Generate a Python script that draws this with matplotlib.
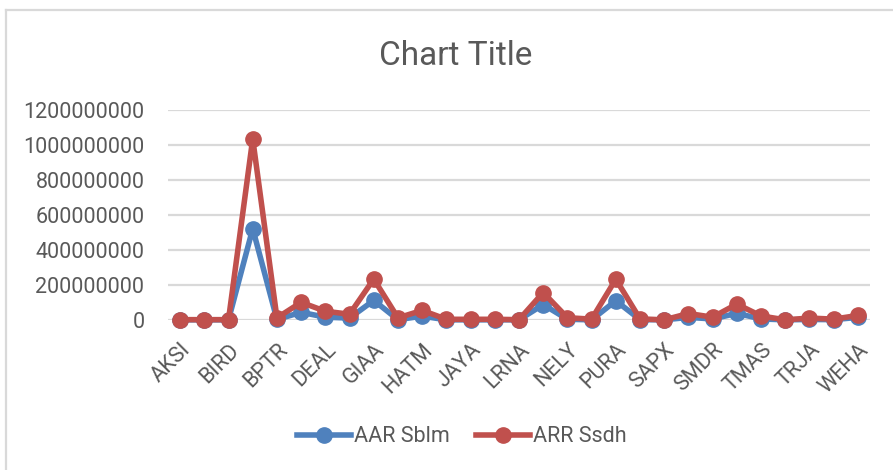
import matplotlib
matplotlib.use("Agg")
import matplotlib.pyplot as plt
from matplotlib.lines import Line2D
import numpy as np

# ---- data ----
tick_labels = ["AKSI", "BIRD", "BPTR", "DEAL", "GIAA", "HATM", "JAYA", "LRNA",
               "NELY", "PURA", "SAPX", "SMDR", "TMAS", "TRJA", "WEHA"]
n_points = 29
aar_sblm = [1e6, 1e6, 1e6, 522e6, 3e6, 44e6, 16e6, 11e6, 112e6, 2e6,
            22e6, 1e6, 1e6, 1e6, 1e6, 88e6, 4e6, 1e6, 110e6, 2e6,
            1e6, 15e6, 6e6, 38e6, 6e6, 1e6, 3e6, 2e6, 15e6]
arr_ssdh = [2e6, 2e6, 2e6, 1035e6, 12e6, 101e6, 50e6, 33e6, 234e6, 12e6,
            55e6, 4e6, 4e6, 4e6, 2e6, 157e6, 13e6, 5e6, 233e6, 6e6,
            1e6, 37e6, 16e6, 91e6, 23e6, 1e6, 11e6, 5e6, 26e6]
series_names = ["AAR Sblm", "ARR Ssdh"]
yticks = [0, 200000000, 400000000, 600000000, 800000000, 1000000000, 1200000000]

BLUE = "#4F81BD"
RED = "#C0504D"
TXT = "#595959"
GRID = "#D9D9D9"
FONT = "Roboto"

W, H = 893, 470
fig = plt.figure(figsize=(W / 100, H / 100), dpi=100)
fig.patch.set_facecolor("white")

left, right, top, bottom = 168, 870, 110, 320
ax = fig.add_axes([left / W, 1 - bottom / H, (right - left) / W, (bottom - top) / H])

x = np.arange(n_points)
ax.plot(x, aar_sblm, color=BLUE, lw=4.0, marker="o", ms=11, label=series_names[0],
        clip_on=False, zorder=3, solid_joinstyle="round")
ax.plot(x, arr_ssdh, color=RED, lw=4.0, marker="o", ms=11, label=series_names[1],
        clip_on=False, zorder=4, solid_joinstyle="round")

ax.set_xlim(-0.5, n_points - 0.5)
ax.set_ylim(0, 1200000000)
ax.set_yticks(yticks)
ax.set_yticklabels([str(v) for v in yticks], fontsize=15.5, color=TXT, family=FONT)
ax.set_xticks(np.arange(0, n_points, 2))
ax.set_xticklabels(tick_labels, rotation=45, ha="right", va="top",
                   rotation_mode="anchor", fontsize=15.5, color=TXT, family=FONT)
ax.tick_params(axis="both", length=0)
ax.tick_params(axis="y", pad=17)
ax.tick_params(axis="x", pad=14)
for s in ax.spines.values():
    s.set_visible(False)
ax.yaxis.grid(True, color=GRID, lw=1.6)
ax.set_axisbelow(True)

fig.text(456 / W, 1 - 56 / H, "Chart Title", ha="center", va="center",
         fontsize=24, color=TXT, family=FONT)

leg = fig.legend(loc="center", bbox_to_anchor=(462 / W, 1 - 437 / H), ncol=2,
                 frameon=False, prop={"family": FONT, "size": 15.5},
                 handlelength=2.5, handletextpad=0.15, columnspacing=1.2)
for t in leg.get_texts():
    t.set_color(TXT)

# chart frame (left and top edges visible)
fig.add_artist(Line2D([6 / W, 6 / W], [0, 1 - 10 / H], transform=fig.transFigure,
                      color=GRID, lw=1.6))
fig.add_artist(Line2D([6 / W, 1], [1 - 10 / H, 1 - 10 / H], transform=fig.transFigure,
                      color=GRID, lw=1.6))

fig.savefig("out.png", dpi=100, facecolor="white")
